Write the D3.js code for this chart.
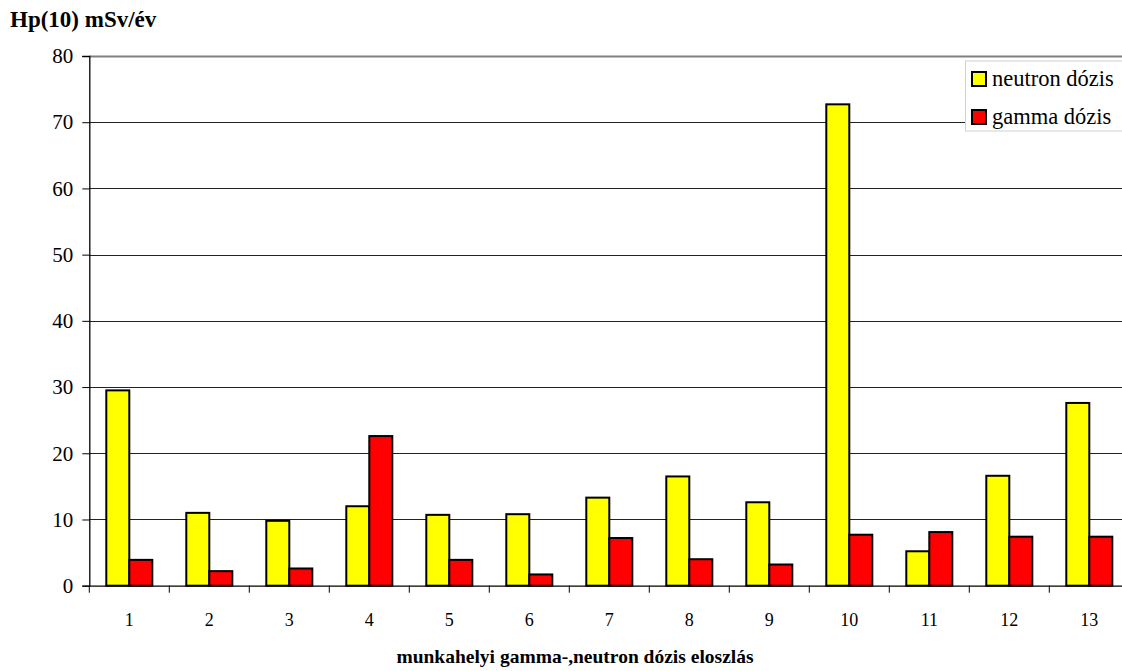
<!DOCTYPE html>
<html><head><meta charset="utf-8">
<script src="https://cdn.jsdelivr.net/npm/d3@7"></script>
<style>html,body{margin:0;padding:0;background:#fff;overflow:hidden}svg{display:block}
svg text{font-family:"Liberation Serif","Times New Roman",serif}</style>
</head><body>
<script>
const categories = ["1","2","3","4","5","6","7","8","9","10","11","12","13"];
const seriesNames = ["neutron dózis","gamma dózis"];
const neutron = [29.5,11.0,9.8,12.0,10.7,10.8,13.3,16.5,12.6,72.7,5.2,16.6,27.6];
const gamma = [3.9,2.2,2.6,22.6,3.9,1.7,7.2,4.0,3.2,7.7,8.1,7.4,7.4];
const yTicks = [0,10,20,30,40,50,60,70,80];
const colors = ["#ffff00","#ff0000"];

(function(){
const W = 1122, H = 671;
const pLeft = 89.3, pTop = 56, pBottom = 585.7, pRight = 1129.3;
const svg = d3.select("body").append("svg").attr("width", W).attr("height", H);
const font = '"Liberation Serif","Times New Roman",serif';

const y = d3.scaleLinear().domain([0,80]).range([pBottom, pTop]);
const x0 = d3.scaleBand().domain(categories).range([pLeft, pRight]).padding(0);
const x1 = d3.scaleBand().domain(seriesNames).range([17, 63]).padding(0);

// gridlines
svg.append("g").selectAll("line").data(yTicks.filter(d => d > 0)).join("line")
  .attr("x1", pLeft).attr("x2", W).attr("y1", d => Math.round(y(d)) + 0.5).attr("y2", d => Math.round(y(d)) + 0.5)
  .attr("stroke", d => d === 80 ? "#808080" : "#222").attr("stroke-width", d => d === 80 ? 2 : 1);

// y axis
const yAxis = svg.append("g").attr("transform", `translate(${pLeft},0)`)
  .call(d3.axisLeft(y).tickValues(yTicks).tickSize(7).tickPadding(9));
yAxis.attr("font-family", null);
yAxis.select(".domain").attr("stroke", "#000").attr("stroke-width", 1.3);
yAxis.selectAll(".tick line").attr("stroke", "#000");
yAxis.selectAll("text").style("font-family", font).style("font-size", "21px").attr("fill", "#000");

// x axis
const xAxis = svg.append("g").attr("transform", `translate(0,${pBottom})`)
  .call(d3.axisBottom(x0).tickSize(0).tickPadding(28));
xAxis.attr("font-family", null);
xAxis.select(".domain").attr("stroke", "#000").attr("stroke-width", 1.3);
xAxis.selectAll("text").style("font-family", font).style("font-size", "18px").attr("fill", "#000");
svg.append("g").selectAll("line").data(categories).join("line")
  .attr("x1", d => x0(d)).attr("x2", d => x0(d)).attr("y1", pBottom).attr("y2", pBottom + 7)
  .attr("stroke", "#000").attr("stroke-width", 1);

// bars
const data = categories.map((c, i) => ({c, vals: [neutron[i], gamma[i]]}));
svg.append("g").selectAll("g").data(data).join("g")
  .attr("transform", d => `translate(${x0(d.c)},0)`)
  .selectAll("rect").data(d => d.vals.map((v, j) => ({name: seriesNames[j], v, j}))).join("rect")
  .attr("x", d => x1(d.name)).attr("width", x1.bandwidth())
  .attr("y", d => y(d.v)).attr("height", d => y(0) - y(d.v))
  .attr("fill", d => colors[d.j]).attr("stroke", "#000").attr("stroke-width", 2);

// legend
const lg = svg.append("g");
lg.append("rect").attr("x", 965.5).attr("y", 61).attr("width", 170).attr("height", 70)
  .attr("fill", "#fff").attr("stroke", "#d0d0d0").attr("stroke-width", 1);
seriesNames.forEach((n, i) => {
  const yy = 72 + i * 38;
  lg.append("rect").attr("x", 972).attr("y", yy).attr("width", 14).attr("height", 14)
    .attr("fill", colors[i]).attr("stroke", "#000").attr("stroke-width", 2);
  lg.append("text").attr("x", 992).attr("y", yy + 14).text(n)
    .style("font-family", font).style("font-size", "22.5px").attr("fill", "#000");
});

// titles
svg.append("text").attr("x", 10).attr("y", 27).text("Hp(10) mSv/év")
  .style("font-family", font).style("font-size", "23px").style("font-weight", "bold");
svg.append("text").attr("x", 575).attr("y", 663).attr("text-anchor", "middle")
  .text("munkahelyi gamma-,neutron dózis eloszlás")
  .style("font-family", font).style("font-size", "19.5px").style("font-weight", "bold");
})();
</script>
</body></html>
